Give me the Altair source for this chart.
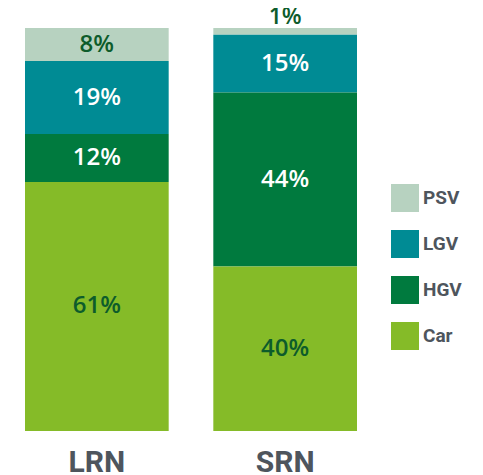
import altair as alt
import pandas as pd

roads = ["LRN", "SRN"]
classes = ["PSV", "LGV", "HGV", "Car"]          # top to bottom
lrn_values = [8.2, 18.1, 11.9, 61.8]
srn_values = [1.7, 14.3, 43.2, 40.8]
lrn_labels = ["8%", "19%", "12%", "61%"]
srn_labels = ["1%", "15%", "44%", "40%"]
srn_outside = [True, False, False, False]
colors = ["#b7d2c0", "#008b94", "#007a3e", "#85bb28"]

rows = []
for road, vals, labs, outs in [
    ("LRN", lrn_values, lrn_labels, [False] * 4),
    ("SRN", srn_values, srn_labels, srn_outside),
]:
    for i, (c, v, l, o) in enumerate(zip(classes, vals, labs, outs)):
        rows.append({"road": road, "cls": c, "value": v, "label": l,
                     "ord": len(classes) - 1 - i, "outside": o})
df = pd.DataFrame(rows)

base = alt.Chart(df).transform_stack(
    stack="value", groupby=["road"], as_=["y0", "y1"],
    sort=[alt.SortField("ord", order="ascending")]
).transform_calculate(mid="(datum.y0 + datum.y1) / 2")

xenc = alt.X("road:N", sort=roads, title=None,
             scale=alt.Scale(paddingInner=0.237, paddingOuter=0),
             axis=alt.Axis(domain=False, ticks=False, labelAngle=0,
                           labelFont="Roboto", labelFontSize=30,
                           labelFontWeight="bold", labelColor="#4e555d",
                           labelPadding=16))
yscale = alt.Scale(domain=[0, 100])

bars = base.mark_bar(stroke=None).encode(
    x=xenc,
    y=alt.Y("y0:Q", scale=yscale, axis=None),
    y2="y1:Q",
    color=alt.Color("cls:N", scale=alt.Scale(domain=classes, range=colors),
                    legend=alt.Legend(title=None, orient="none", legendX=366,
                                      legendY=156, symbolType="square",
                                      symbolSize=784, symbolStrokeWidth=0,
                                      labelFont="Roboto", labelFontSize=19,
                                      labelFontWeight="bold",
                                      labelColor="#4e555d", rowPadding=18,
                                      labelOffset=4, padding=0)),
)

txt_color = alt.condition("datum.cls == 'LGV' || datum.cls == 'HGV'",
                          alt.value("white"), alt.value("#0d5c2b"))

inside = base.transform_filter("!datum.outside").mark_text(
    font="Open Sans", fontSize=24, fontWeight=600, baseline="middle"
).encode(
    x=alt.X("road:N", sort=roads),
    y=alt.Y("mid:Q", scale=yscale),
    text="label:N",
    color=txt_color,
)

outside = base.transform_filter("datum.outside").mark_text(
    font="Open Sans", fontSize=23, fontWeight=600, baseline="middle", dy=-11
).encode(
    x=alt.X("road:N", sort=roads),
    y=alt.Y("y1:Q", scale=yscale),
    text="label:N",
    color=txt_color,
)

chart = alt.layer(bars, inside, outside).properties(
    width=332, height=403,
    padding={"left": 17, "top": 20, "right": 110, "bottom": 44},
    autosize="none",
).configure_view(strokeWidth=0)

chart.save("out.html", embed_options={"renderer": "svg", "actions": False})
